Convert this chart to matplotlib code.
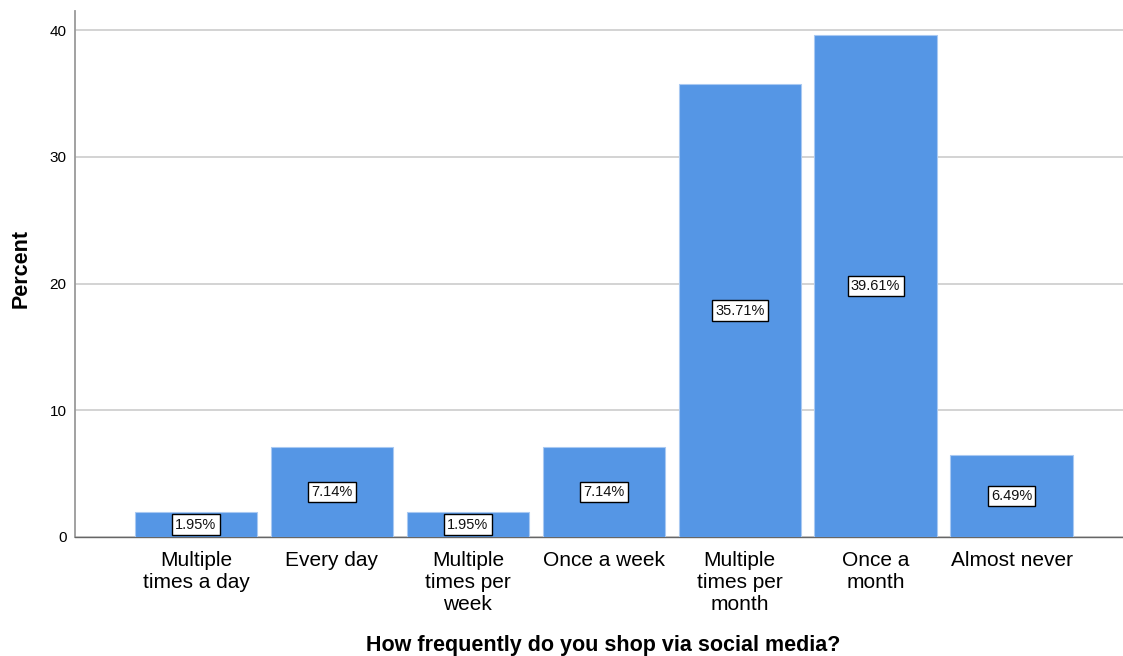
import matplotlib
matplotlib.use("Agg")
import matplotlib.pyplot as plt

categories = ["Multiple\ntimes a day", "Every day", "Multiple\ntimes per\nweek",
              "Once a week", "Multiple\ntimes per\nmonth", "Once a\nmonth", "Almost never"]
percents = [1.95, 7.14, 1.95, 7.14, 35.71, 39.61, 6.49]
y_ticks = [0, 10, 20, 30, 40]

plt.rcParams['font.family'] = ['Liberation Sans', 'DejaVu Sans']

W, H = 1123, 656
fig = plt.figure(figsize=(W / 100, H / 100), dpi=100)
ax = fig.add_axes([75 / W, 1 - 537 / H, 1048 / W, 526 / H])

x = range(len(categories))
ax.bar(x, percents, width=0.9, color="#5596E5", edgecolor="#A9C9F2",
       linewidth=0.8, zorder=3)

for xi, v in zip(x, percents):
    ax.text(xi, v / 2, f"{v:.2f}%", ha="center", va="center", fontsize=10.5,
            color="#111111", zorder=4,
            bbox=dict(boxstyle="square,pad=0.22", facecolor="white",
                      edgecolor="black", linewidth=1.0))

ax.set_xlim(-0.89, 6.82)
ax.set_ylim(0, 41.5)
ax.set_yticks(y_ticks)
ax.set_yticklabels([str(t) for t in y_ticks], fontsize=11)
ax.set_xticks(list(x))
ax.set_xticklabels(categories, fontsize=15, linespacing=1.2, va="top",
                   color="#222222")
ax.tick_params(axis="both", length=0, colors="black")
ax.tick_params(axis="y", pad=6)
ax.tick_params(axis="x", pad=10)

ax.grid(axis="y", color="#CCCCCC", linewidth=1.2, zorder=0)
for side in ("top", "right"):
    ax.spines[side].set_visible(False)
ax.spines["left"].set_color("#9A9A9A")
ax.spines["left"].set_linewidth(1.3)
ax.spines["bottom"].set_color("#666666")
ax.spines["bottom"].set_linewidth(1.0)

fig.text(21 / W, 1 - 269 / H, "Percent", rotation=90, ha="center", va="center",
         fontsize=15.5, fontweight="bold")
fig.text(603 / W, 1 - 645 / H, "How frequently do you shop via social media?",
         ha="center", va="center", fontsize=15.5, fontweight="bold")

fig.savefig("out.png", dpi=100)
